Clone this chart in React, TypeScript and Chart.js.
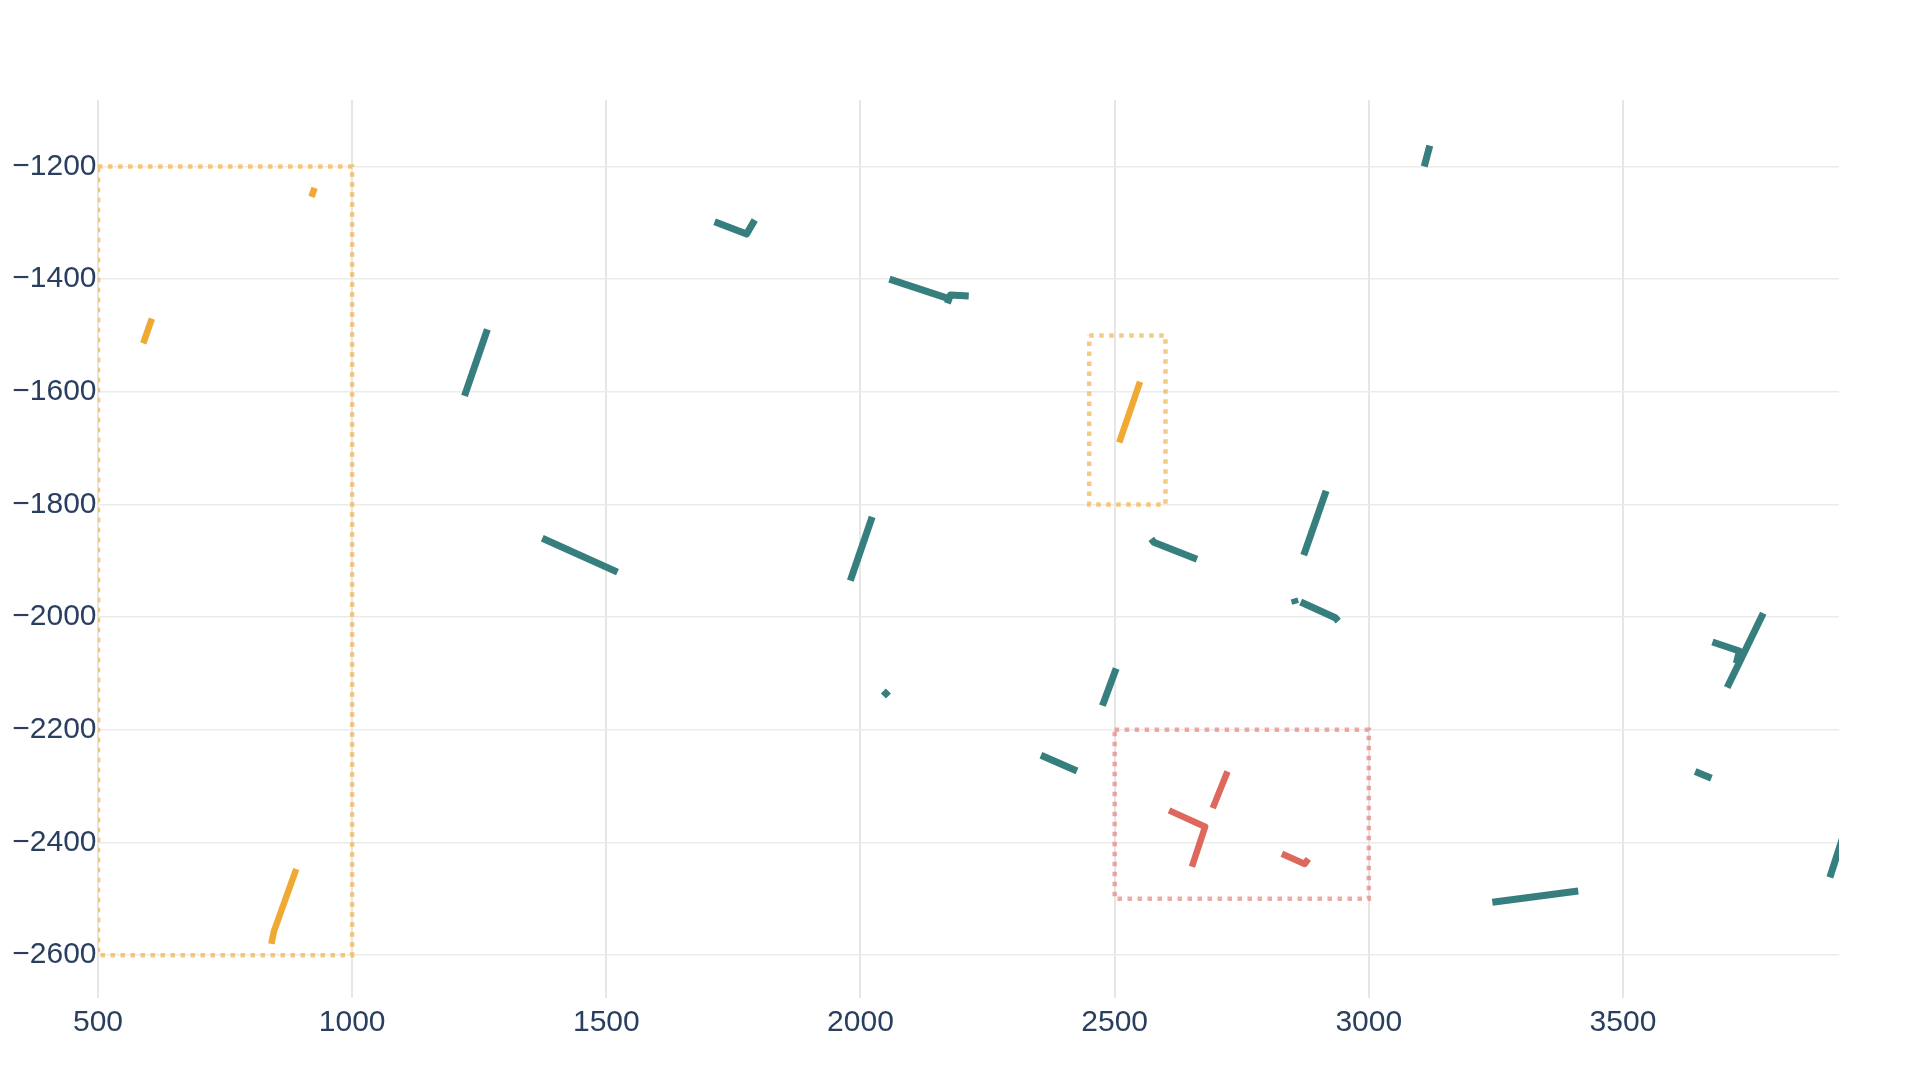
import React, { useEffect, useRef } from 'react';
import { Chart, registerables } from 'chart.js';

Chart.register(...registerables);

const xTicks = [500, 1000, 1500, 2000, 2500, 3000, 3500];
const xTickLabels = ['500', '1000', '1500', '2000', '2500', '3000', '3500'];
const yTicks = [-1200, -1400, -1600, -1800, -2000, -2200, -2400, -2600];
const yTickLabels = ['\u22121200', '\u22121400', '\u22121600', '\u22121800', '\u22122000', '\u22122200', '\u22122400', '\u22122600'];
const xRange = [500, 3925];
const yRange = [-2676, -1082];

const tealSegments: number[][][] = [
  [[1266, -1489], [1221, -1607]],
  [[1374, -1860], [1522, -1920]],
  [[1713, -1298], [1776, -1320], [1792, -1295]],
  [[2057, -1400], [2172, -1434]],
  [[2171, -1443], [2177, -1428], [2213, -1430]],
  [[2023, -1822], [1980, -1935]],
  [[2045, -2131], [2055, -2140]],
  [[2503, -2091], [2476, -2157]],
  [[2355, -2245], [2426, -2273]],
  [[2572, -1861], [2577, -1867], [2662, -1897]],
  [[2916, -1776], [2872, -1890]],
  [[2853, -1967], [2856, -1976]],
  [[2866, -1973], [2934, -2001], [2940, -2007]],
  [[3120, -1163], [3109, -1200]],
  [[3243, -2506], [3412, -2486]],
  [[3642, -2274], [3674, -2286]],
  [[3676, -2044], [3729, -2060], [3723, -2082]],
  [[3776, -1993], [3705, -2125]],
  [[3932, -2392], [3907, -2462]],
];

const orangeSegments: number[][][] = [
  [[926, -1238], [920, -1254]],
  [[606, -1470], [589, -1514]],
  [[2550, -1582], [2509, -1690]],
  [[890, -2447], [846, -2558], [841, -2580]],
];

const redSegments: number[][][] = [
  [[2607, -2343], [2678, -2372], [2652, -2443]],
  [[2722, -2274], [2693, -2339]],
  [[2829, -2420], [2874, -2438], [2881, -2429]],
];

// [x0, x1, yTop, yBottom]
const orangeBoxes: number[][] = [
  [500, 1000, -1200, -2600],
  [2450, 2600, -1500, -1800],
];
const redBoxes: number[][] = [
  [2500, 3000, -2200, -2500],
];

const TEAL = '#377e7e';
const ORANGE = '#f0a932';
const RED = '#de685e';
const ORANGE_BOX = 'rgba(240,169,50,0.62)';
const RED_BOX = 'rgba(222,104,94,0.55)';

function segDataset(seg: number[][], color: string, width: number) {
  return {
    type: 'scatter' as const,
    data: seg.map(([x, y]) => ({ x, y })),
    showLine: true,
    borderColor: color,
    backgroundColor: color,
    borderWidth: width,
    borderCapStyle: 'butt' as const,
    borderJoinStyle: 'round' as const,
    pointRadius: 0,
    pointHoverRadius: 0,
    fill: false,
    tension: 0,
    clip: 0,
  };
}

function boxDataset(b: number[], color: string) {
  const [x0, x1, y0, y1] = b;
  return {
    type: 'scatter' as const,
    data: [
      { x: x0, y: y0 },
      { x: x1, y: y0 },
      { x: x1, y: y1 },
      { x: x0, y: y1 },
      { x: x0, y: y0 },
    ],
    showLine: true,
    borderColor: color,
    backgroundColor: color,
    borderWidth: 4.5,
    borderDash: [4.5, 5.5],
    borderCapStyle: 'butt' as const,
    pointRadius: 0,
    pointHoverRadius: 0,
    fill: false,
    tension: 0,
    clip: 0,
  };
}

export default function App() {
  const ref = useRef<HTMLCanvasElement | null>(null);

  useEffect(() => {
    document.body.style.margin = '0';
    const canvas = ref.current;
    if (!canvas) return;
    const datasets: any[] = [
      ...orangeBoxes.map((b) => boxDataset(b, ORANGE_BOX)),
      ...redBoxes.map((b) => boxDataset(b, RED_BOX)),
      ...tealSegments.map((s) => segDataset(s, TEAL, 7)),
      ...orangeSegments.map((s) => segDataset(s, ORANGE, 6.5)),
      ...redSegments.map((s) => segDataset(s, RED, 6.5)),
    ];
    const font = { family: '"Liberation Sans", Arial, sans-serif', size: 30 };
    const chart = new Chart(canvas, {
      type: 'scatter',
      data: { datasets },
      options: {
        responsive: false,
        animation: false,
        devicePixelRatio: 1,
        layout: { padding: { top: 100, right: 81, left: 0, bottom: 0 } },
        plugins: {
          legend: { display: false },
          tooltip: { enabled: false },
        },
        scales: {
          x: {
            type: 'linear',
            min: xRange[0],
            max: xRange[1],
            afterBuildTicks: (s: any) => {
              s.ticks = xTicks.map((v) => ({ value: v }));
            },
            afterFit: (s: any) => {
              s.height = 82;
            },
            ticks: {
              color: '#2a3f5f',
              font,
              padding: 7,
              maxRotation: 0,
              autoSkip: false,
              callback: (v: any) => {
                const i = xTicks.indexOf(Number(v));
                return i >= 0 ? xTickLabels[i] : '';
              },
            },
            grid: { color: '#e6e6e6', lineWidth: 2, drawTicks: false },
            border: { display: false },
          },
          y: {
            type: 'linear',
            min: yRange[0],
            max: yRange[1],
            afterBuildTicks: (s: any) => {
              s.ticks = yTicks.map((v) => ({ value: v }));
            },
            afterFit: (s: any) => {
              s.width = 98;
            },
            ticks: {
              color: '#2a3f5f',
              font,
              padding: 1.5,
              autoSkip: false,
              callback: (v: any) => {
                const i = yTicks.indexOf(Number(v));
                return i >= 0 ? yTickLabels[i] : '';
              },
            },
            grid: { color: '#ebebeb', lineWidth: 1.5, drawTicks: false },
            border: { display: false },
          },
        },
      },
    } as any);
    return () => chart.destroy();
  }, []);

  return (
    <div style={{ position: 'fixed', left: 0, top: 0, width: 1920, height: 1080, background: '#ffffff' }}>
      <canvas ref={ref} width={1920} height={1080} style={{ display: 'block', width: 1920, height: 1080 }} />
    </div>
  );
}
